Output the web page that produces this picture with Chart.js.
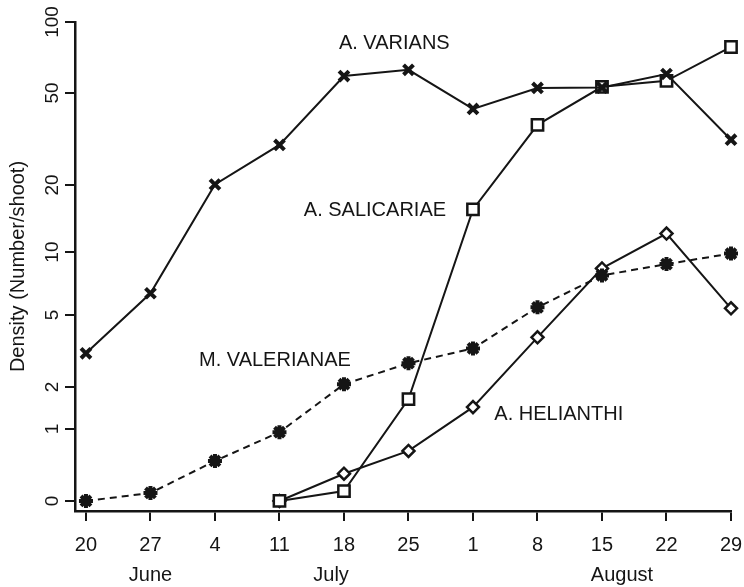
<!DOCTYPE html>
<html>
<head>
<meta charset="utf-8">
<script src="https://cdn.jsdelivr.net/npm/chart.js@4/dist/chart.umd.min.js"></script>
<style>
    body { margin: 0; background: #fff; }
    #grafico { display: block; }
</style>
</head>
<body>
<canvas id="grafico" width="744" height="587"></canvas>
<script>
// Semanas de amostragem (dias) e meses
const semanas = ['20', '27', '4', '11', '18', '25', '1', '8', '15', '22', '29'];
const meses = ['June', 'July', 'August'];
const posicaoMeses = [1, 3.8, 8.31];

// Ticks do eixo y (escala log(x+1))
const ticksY = [0, 1, 2, 5, 10, 20, 50, 100];

// Densidades (número/broto)
const varians = [3.15, 6.4, 20.1, 29.9, 59, 62.7, 42.7, 52.5, 52.7, 60.2, 31.5];
const salicariae = [null, null, null, 0, 0.1, 1.67, 15.6, 36.5, 53.1, 56.3, 78.4];
const helianthi = [null, null, null, 0, 0.3, 0.62, 1.47, 3.84, 8.4, 12.15, 5.4];
const valerianae = [0, 0.08, 0.47, 0.94, 2.08, 2.77, 3.35, 5.46, 7.79, 8.8, 9.85];

// Rótulos das espécies (posição em unidades dos dados)
const nomes = ['A. VARIANS', 'A. SALICARIAE', 'M. VALERIANAE', 'A. HELIANTHI'];
const nomesX = [4.78, 4.48, 2.93, 7.33];
const nomesY = [81, 15.4, 2.88, 1.29];

const FONTE = '"Liberation Sans", Arial, sans-serif';
const PRETO = '#151515';

function tf(v) {
    return Math.log10(v + 1);
}

function pontos(serie) {
    return serie
        .map((v, i) => (v === null ? null : { x: i, y: tf(v) }))
        .filter(p => p !== null);
}

function serie(dados, estilo, raio, tracejado) {
    const aberto = estilo === 'rect' || estilo === 'rectRot';
    return {
        data: pontos(dados),
        borderColor: PRETO,
        borderWidth: 2,
        borderDash: tracejado ? [7, 5] : [],
        pointStyle: estilo,
        pointRadius: raio,
        pointBorderWidth: aberto ? 2.5 : 4,
        pointBorderColor: PRETO,
        pointBackgroundColor: '#fff',
        clip: false,
        tension: 0
    };
}

// Plugin para textos extras (meses e nomes das espécies)
const textosExtras = {
    id: 'textosExtras',
    afterDraw(chart) {
        const ctx = chart.ctx;
        const sx = chart.scales.x;
        const sy = chart.scales.y;
        ctx.save();
        ctx.fillStyle = PRETO;
        ctx.font = '20px ' + FONTE;
        ctx.textAlign = 'center';
        ctx.textBaseline = 'middle';
        meses.forEach((m, i) => {
            ctx.fillText(m, sx.getPixelForValue(posicaoMeses[i]), 575);
        });
        nomes.forEach((n, i) => {
            ctx.fillText(n, sx.getPixelForValue(nomesX[i]), sy.getPixelForValue(tf(nomesY[i])));
        });
        ctx.restore();
    }
};

const ctx = document.getElementById('grafico').getContext('2d');
new Chart(ctx, {
    type: 'line',
    data: {
        datasets: [
            serie(varians, 'crossRot', 7, false),
            serie(valerianae, 'star', 7, true),
            serie(salicariae, 'rect', 8, false),
            serie(helianthi, 'rectRot', 6, false)
        ]
    },
    options: {
        responsive: false,
        animation: false,
        layout: { padding: { top: 22, right: 13, left: 0, bottom: 0 } },
        plugins: {
            legend: { display: false },
            tooltip: { enabled: false }
        },
        scales: {
            x: {
                type: 'linear',
                min: -0.17,
                max: 10,
                afterBuildTicks: (scale) => {
                    scale.ticks = semanas.map((_, i) => ({ value: i }));
                },
                afterFit: (scale) => {
                    scale.height = 76;
                    scale.paddingLeft = 0;
                    scale.paddingRight = 0;
                },
                ticks: {
                    callback: (val, i) => semanas[i],
                    color: PRETO,
                    font: { family: FONTE, size: 20 },
                    padding: 12,
                    maxRotation: 0,
                    autoSkip: false
                },
                grid: {
                    drawOnChartArea: false,
                    drawTicks: true,
                    tickLength: 10,
                    color: PRETO,
                    lineWidth: 2
                },
                border: { display: true, color: PRETO, width: 2.5 }
            },
            y: {
                type: 'linear',
                min: -0.042,
                max: tf(100),
                afterBuildTicks: (scale) => {
                    scale.ticks = ticksY.map(v => ({ value: tf(v) }));
                },
                afterFit: (scale) => { scale.width = 75; },
                ticks: {
                    callback: (val, i) => ticksY[i],
                    color: PRETO,
                    font: { family: FONTE, size: 19 },
                    minRotation: 90,
                    maxRotation: 90,
                    crossAlign: 'center',
                    padding: -4,
                    autoSkip: false
                },
                grid: {
                    drawOnChartArea: false,
                    drawTicks: true,
                    tickLength: 10,
                    color: PRETO,
                    lineWidth: 2
                },
                border: { display: true, color: PRETO, width: 2.5 },
                title: {
                    display: true,
                    text: 'Density (Number/shoot)',
                    color: PRETO,
                    font: { family: FONTE, size: 20 },
                    padding: { top: 6, bottom: 0 }
                }
            }
        }
    },
    plugins: [textosExtras]
});
</script>
</body>
</html>
